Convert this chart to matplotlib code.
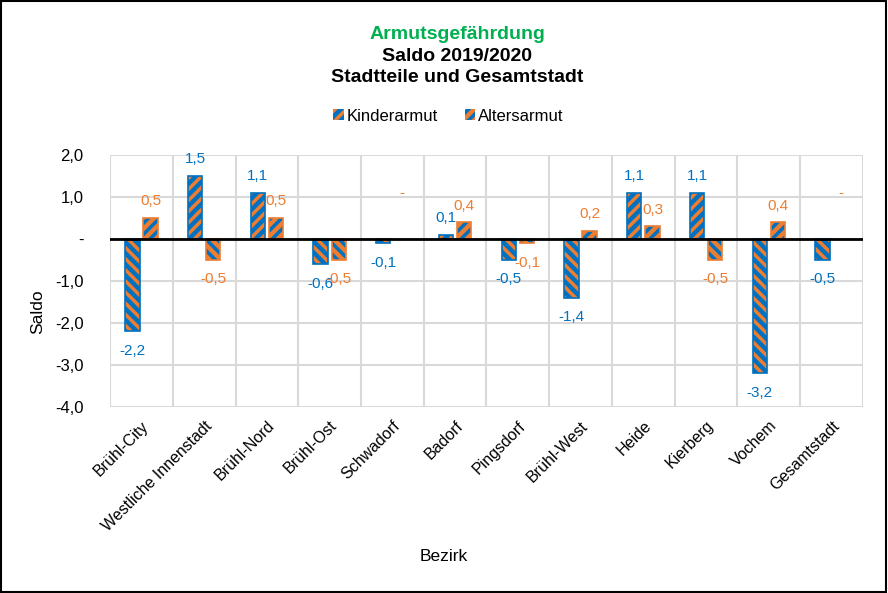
import numpy as np
import matplotlib.pyplot as plt
from matplotlib.patches import Rectangle

plt.rcParams['font.family'] = ['Liberation Sans', 'DejaVu Sans']
plt.rcParams['hatch.linewidth'] = 2.5

bezirke = ["Brühl-City", "Westliche Innenstadt", "Brühl-Nord", "Brühl-Ost", "Schwadorf",
           "Badorf", "Pingsdorf", "Brühl-West", "Heide", "Kierberg", "Vochem", "Gesamtstadt"]
kinderarmut = [-2.2, 1.5, 1.1, -0.6, -0.1, 0.1, -0.5, -1.4, 1.1, 1.1, -3.2, -0.5]
altersarmut = [0.5, -0.5, 0.5, -0.5, 0.0, 0.4, -0.1, 0.2, 0.3, -0.5, 0.4, 0.0]
yticks = [2, 1, 0, -1, -2, -3, -4]

blue = "#0070C0"
orange = "#ED7D31"

fig = plt.figure(figsize=(8.88, 5.93), dpi=100)
fig.patches.append(Rectangle((0.001, 0.002), 0.997, 0.996, transform=fig.transFigure,
                             fill=False, edgecolor="black", linewidth=1.5))
ax = fig.add_axes([0.1239, 0.3137, 0.8479, 0.4249])

x = np.arange(len(bezirke))
w = 0.23
off = 0.145


def fmt(v):
    if v == 0:
        return "-"
    return f"{v:.1f}".replace(".", ",")


for vals, dx, face, stripe in [(kinderarmut, -off, blue, orange), (altersarmut, off, orange, blue)]:
    for xi, v in zip(x, vals):
        if v == 0:
            ax.annotate("-", (xi + dx, 0), xytext=(0, 33), textcoords="offset points",
                        ha="center", va="center", color=face, fontsize=11)
            continue
        h = "///" if v > 0 else "\\\\\\"
        ax.bar(xi + dx, v, w, color=face, edgecolor=stripe, hatch=h, linewidth=0, zorder=3)
        ax.bar(xi + dx, v, w, fill=False, edgecolor=face, linewidth=1.2, zorder=4)
        ax.annotate(fmt(v), (xi + dx, v), xytext=(0, 12 if v > 0 else -14),
                    textcoords="offset points", ha="center", va="center",
                    color=face, fontsize=11, zorder=5)

ax.axhline(0, color="black", linewidth=2, zorder=4)
ax.set_xlim(-0.5, len(bezirke) - 0.5)
ax.set_ylim(-4, 2)
ax.set_yticks(yticks)
ax.set_yticklabels([fmt(float(t)) for t in yticks], fontsize=12)
ax.set_xticks(x)
ax.set_xticklabels(bezirke, rotation=45, ha="right", rotation_mode="anchor", fontsize=11.5)
ax.set_xticks(np.arange(-0.5, len(bezirke)), minor=True)
ax.tick_params(which="both", length=0)
ax.tick_params(axis="x", pad=8)
ax.tick_params(axis="y", pad=19)
ax.grid(True, which="minor", axis="x", color="#D9D9D9", linewidth=1.5, zorder=0)
ax.grid(True, which="major", axis="y", color="#D9D9D9", linewidth=1.5, zorder=0)
ax.grid(False, which="major", axis="x")
for s in ax.spines.values():
    s.set_visible(False)
ax.set_axisbelow(True)

fig.text(0.042, 0.475, "Saldo", ha="center", va="center", rotation=90, fontsize=12.5)
fig.text(0.5, 0.062, "Bezirk", ha="center", va="center", fontsize=12.5)

fig.text(0.515, 0.941, "Armutsgefährdung", ha="center", va="center", fontsize=14,
         fontweight="bold", color="#00B050")
fig.text(0.515, 0.905, "Saldo 2019/2020", ha="center", va="center", fontsize=14, fontweight="bold")
fig.text(0.515, 0.869, "Stadtteile und Gesamtstadt", ha="center", va="center", fontsize=14,
         fontweight="bold")

handles = [Rectangle((0, 0), 1, 1, facecolor=blue, edgecolor=orange, hatch="///", linewidth=0),
           Rectangle((0, 0), 1, 1, facecolor=orange, edgecolor=blue, hatch="///", linewidth=0)]
fig.legend(handles, ["Kinderarmut", "Altersarmut"], loc="center", bbox_to_anchor=(0.505, 0.804),
           ncol=2, frameon=False, fontsize=12, handlelength=0.65, handleheight=0.65,
           handletextpad=0.15, columnspacing=1.6)

fig.savefig("out.png", dpi=100)
